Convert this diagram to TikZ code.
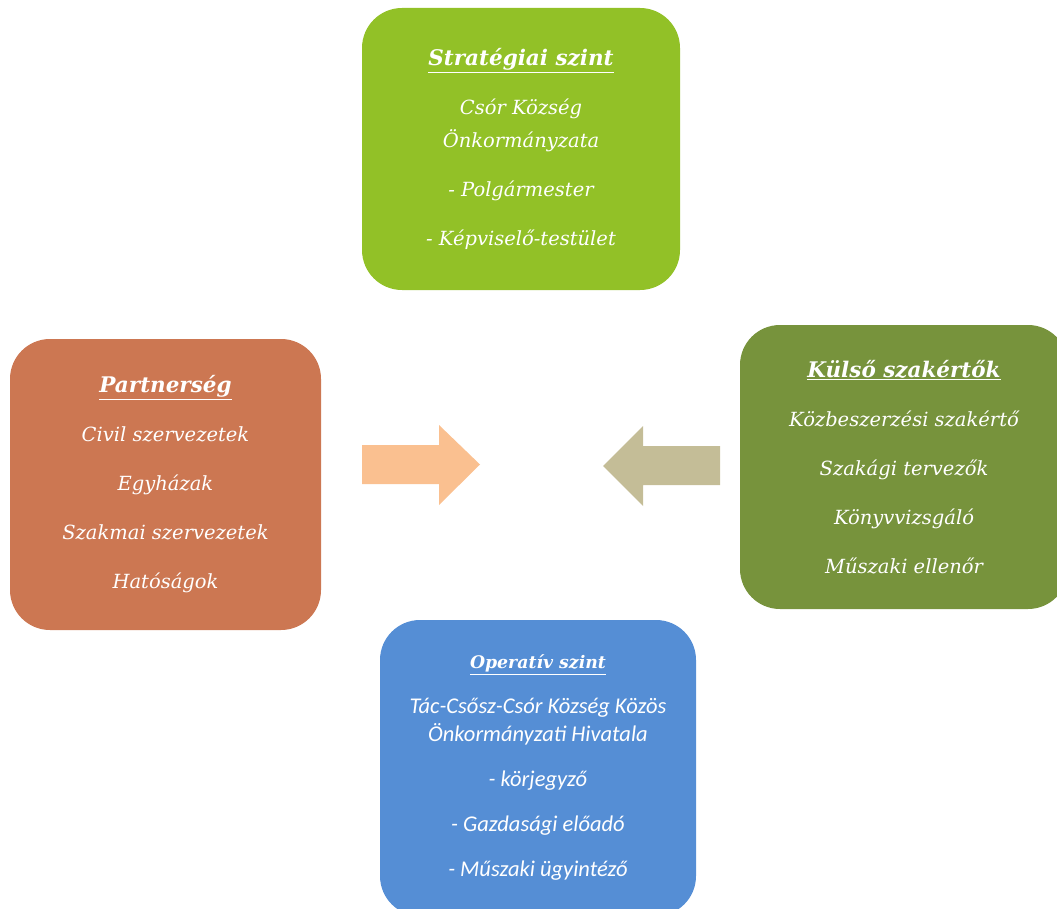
\documentclass[tikz,border=0pt]{standalone}
\usepackage{fontspec}
\setmainfont{DejaVu Serif}
\newfontfamily\calfont{Carlito}
\definecolor{stratgreen}{RGB}{146,193,39}
\definecolor{partorange}{RGB}{204,119,82}
\definecolor{kulsoolive}{RGB}{119,147,60}
\definecolor{operblue}{RGB}{85,142,213}
\definecolor{arrowpeach}{RGB}{250,192,144}
\definecolor{arrowtan}{RGB}{196,189,151}

\begin{document}
\begin{tikzpicture}[x=1pt,y=-1pt,
    box/.style={rounded corners=40pt,draw=none,inner sep=0pt,align=center,text=white,
      font=\itshape\fontsize{19.5}{33}\selectfont}]
  \def\gap{16pt}
  \useasboundingbox (0,0) rectangle (1057,909);
  \clip (0,0) rectangle (1057,909);

  \node[box,fill=stratgreen,minimum width=318pt,minimum height=282pt] (strat) at (521,149)
    {{\bfseries\fontsize{21.5}{33}\selectfont\underline{Stratégiai szint}}\\[\gap]
     Csór Község\\
     Önkormányzata\\[\gap]
     - Polgármester\\[\gap]
     - Képviselő-testület};

  \node[box,fill=partorange,minimum width=311pt,minimum height=291pt] (partner) at (165.5,484.5)
    {{\bfseries\fontsize{21.5}{33}\selectfont\underline{Partnerség}}\\[\gap]
     Civil szervezetek\\[\gap]
     Egyházak\\[\gap]
     Szakmai szervezetek\\[\gap]
     Hatóságok};

  \node[box,fill=kulsoolive,minimum width=328pt,minimum height=284pt] (kulso) at (904,467)
    {{\bfseries\fontsize{21.5}{33}\selectfont\underline{Külső szakértők}}\\[\gap]
     Közbeszerzési szakértő\\[\gap]
     Szakági tervezők\\[\gap]
     Könyvvizsgáló\\[\gap]
     Műszaki ellenőr};

  \node[box,fill=operblue,minimum width=316pt,minimum height=296pt,
    font=\calfont\itshape\fontsize{22.5}{28}\selectfont] (oper) at (538,768)
    {{\rmfamily\bfseries\fontsize{17.3}{28}\selectfont\underline{Operatív szint}}\\[17pt]
     Tác-Csősz-Csór Község Közös\\
     Önkormányzati Hivatala\\[17pt]
     - körjegyző\\[17pt]
     - Gazdasági előadó\\[17pt]
     - Műszaki ügyintéző};

  % arrows
  \fill[arrowpeach] (362,445)--(439,445)--(439,425)--(480,464.5)--(439,505)--(439,484)--(362,484)--cycle;
  \fill[arrowtan] (720,446)--(643,446)--(643,426)--(603,466)--(643,506)--(643,485)--(720,485)--cycle;
\end{tikzpicture}
\end{document}
